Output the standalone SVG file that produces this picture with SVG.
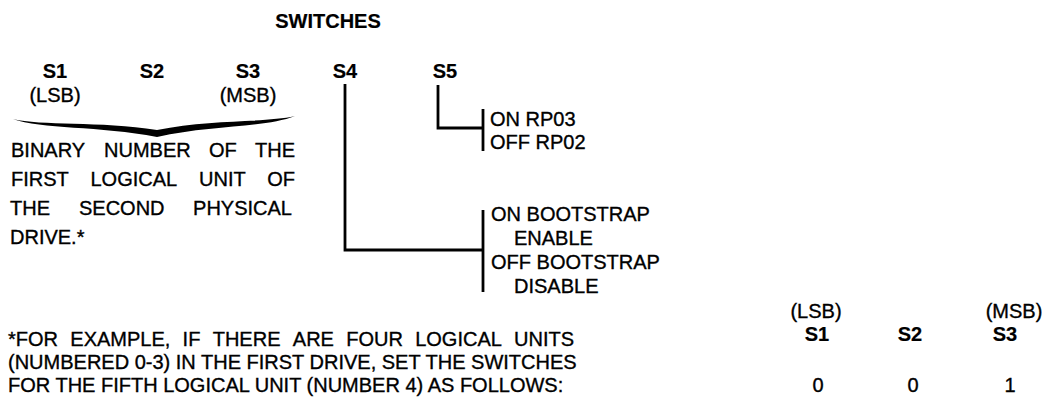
<svg xmlns="http://www.w3.org/2000/svg" width="1045" height="403" viewBox="0 0 1045 403">
<style>
text{font-family:"Liberation Sans",Arial,sans-serif;fill:#000;font-size:20px;stroke:#000;stroke-width:0.35}
.b{font-weight:bold;stroke-width:0.2}
.m{text-anchor:middle}
.e{text-anchor:end}
.ln{fill:none;stroke:#000;stroke-width:2.8}
</style>
<rect width="1045" height="403" fill="#fff"/>
<g id="title"><text class="b m" x="328" y="28" font-size="21">SWITCHES</text></g>
<g id="s1"><text class="b m" x="55" y="78">S1</text><text class="m" x="55" y="102">(LSB)</text></g>
<g id="s2"><text class="b m" x="152" y="78">S2</text></g>
<g id="s3"><text class="b m" x="248" y="78">S3</text><text class="m" x="248" y="102">(MSB)</text></g>
<g id="s4"><text class="b m" x="345" y="78">S4</text></g>
<g id="s5"><text class="b m" x="445" y="78">S5</text></g>
<g id="brace"><path d="M13,119 C40,129 100,126 157,137 C210,125 265,128 295,116 C265,123 210,119 157,130 C100,121 40,126 13,119 Z" fill="#000"/></g>
<g id="desc">
<text y="157"><tspan x="11">BINARY</tspan><tspan x="104">NUMBER</tspan><tspan x="209">OF</tspan><tspan class="e" x="295">THE</tspan></text>
<text y="186"><tspan x="11">FIRST</tspan><tspan x="90.5">LOGICAL</tspan><tspan x="199">UNIT</tspan><tspan class="e" x="295">OF</tspan></text>
<text y="215"><tspan x="10">THE</tspan><tspan x="79">SECOND</tspan><tspan class="e" x="292">PHYSICAL</tspan></text>
<text x="10" y="244">DRIVE.*</text>
</g>
<g id="connectors">
<polyline class="ln" points="345,84 345,250 483,250"/>
<line class="ln" x1="483" y1="210" x2="483" y2="292"/>
<polyline class="ln" points="438,85 438,128 483,128"/>
<line class="ln" x1="483" y1="109" x2="483" y2="151"/>
</g>
<g id="s5opts"><text x="490" y="126">ON RP03</text><text x="490" y="149">OFF RP02</text></g>
<g id="s4opts"><text x="491" y="221">ON BOOTSTRAP</text><text x="514" y="245">ENABLE</text><text x="491" y="269">OFF BOOTSTRAP</text><text x="514" y="293">DISABLE</text></g>
<g id="footnote">
<text y="346"><tspan x="8">*FOR</tspan><tspan x="70.3">EXAMPLE,</tspan><tspan x="182.6">IF</tspan><tspan x="212.7">THERE</tspan><tspan x="292.8">ARE</tspan><tspan x="346.2">FOUR</tspan><tspan x="415.2">LOGICAL</tspan><tspan class="e" x="574">UNITS</tspan></text>
<text x="8" y="369">(NUMBERED 0-3) IN THE FIRST DRIVE, SET THE SWITCHES</text>
<text x="8" y="392">FOR THE FIFTH LOGICAL UNIT (NUMBER 4) AS FOLLOWS:</text>
</g>
<g id="table">
<text class="m" x="816" y="318">(LSB)</text><text class="b m" x="817" y="341">S1</text>
<text class="b m" x="910" y="341">S2</text>
<text class="m" x="1014" y="318">(MSB)</text><text class="b m" x="1005" y="341">S3</text>
<text class="m" x="818" y="392">0</text><text class="m" x="913" y="392">0</text><text class="m" x="1010" y="392">1</text>
</g>
</svg>
